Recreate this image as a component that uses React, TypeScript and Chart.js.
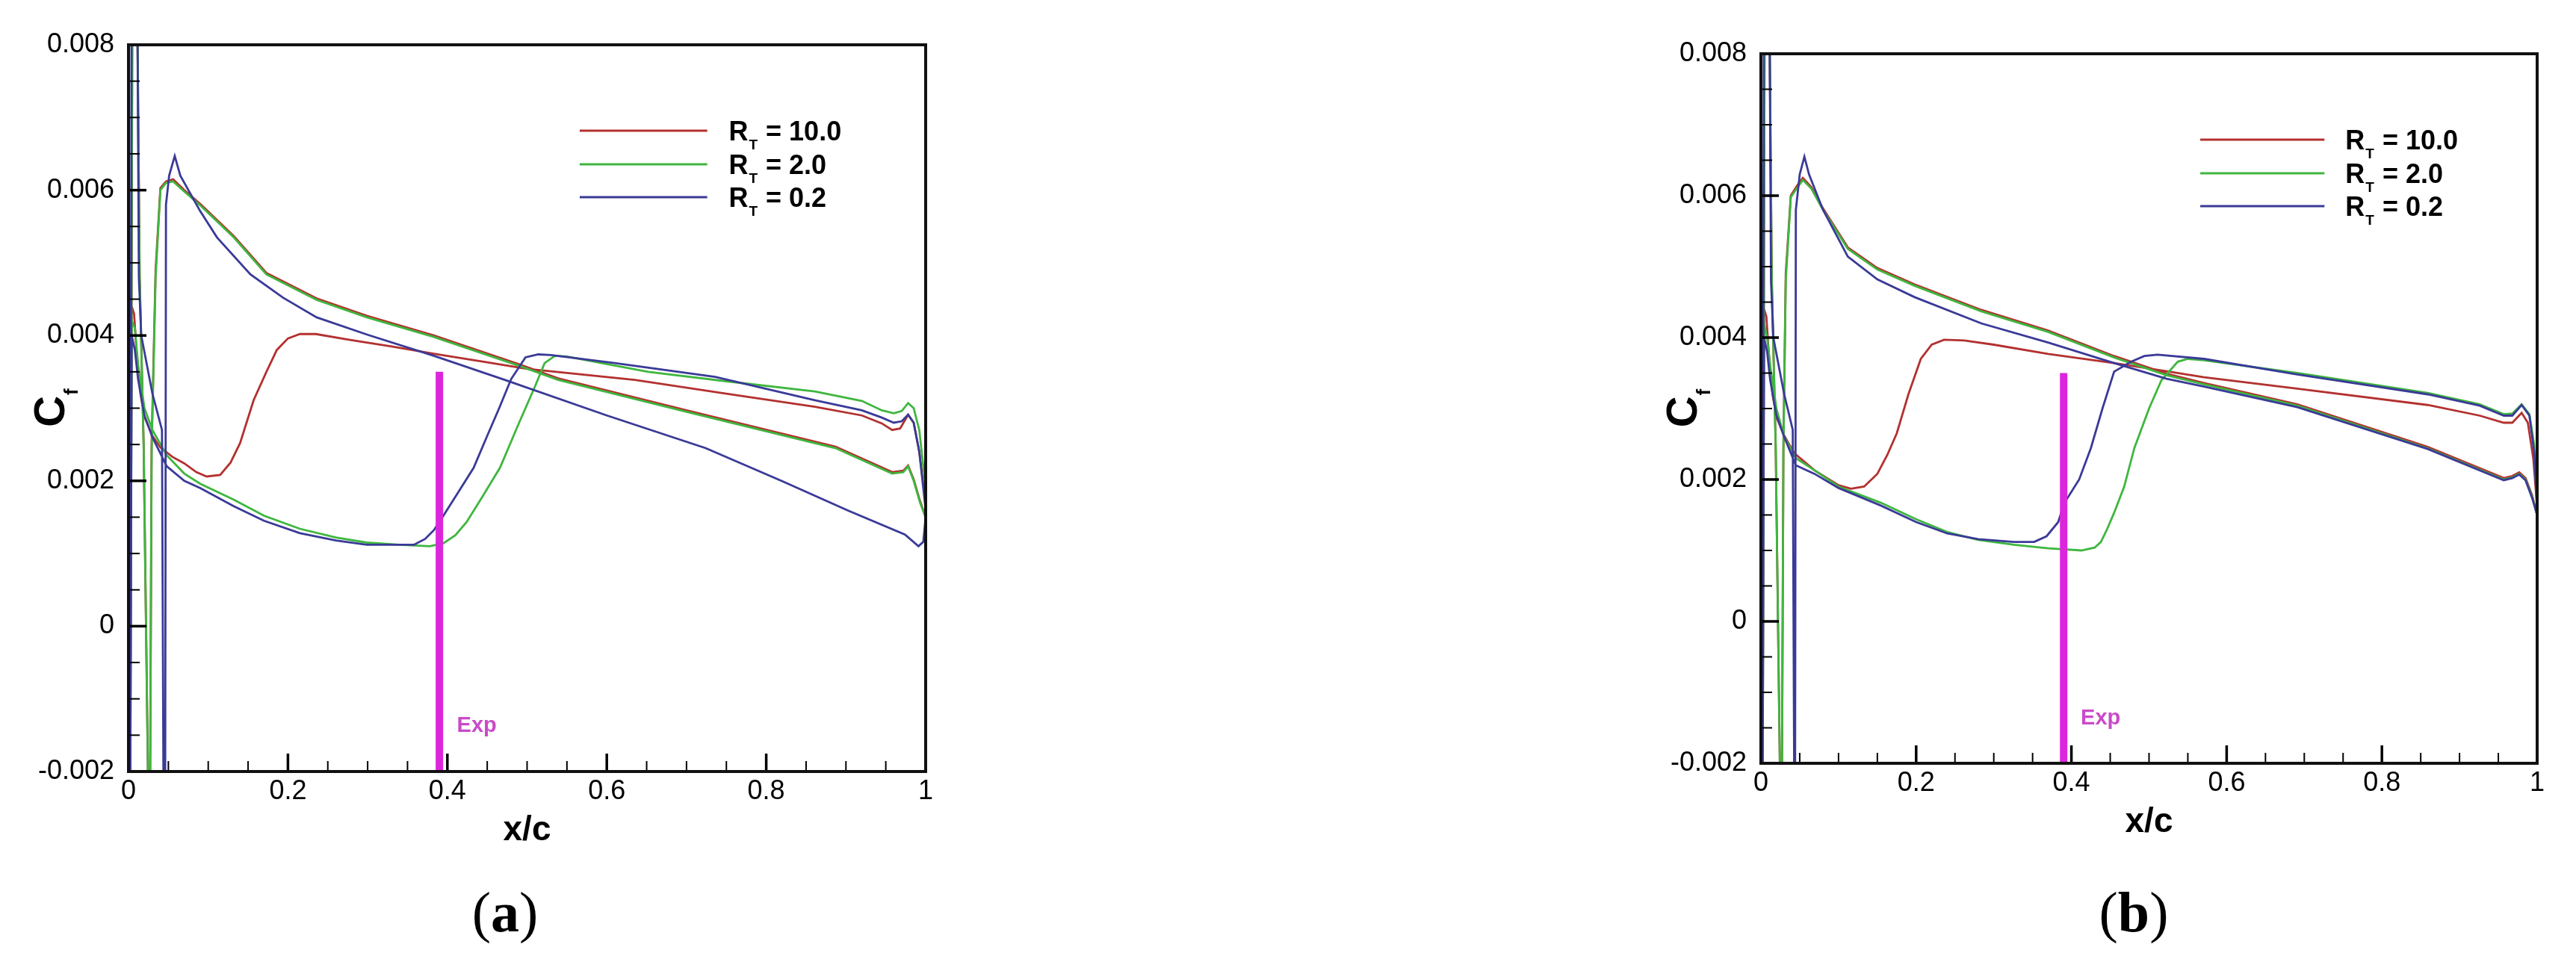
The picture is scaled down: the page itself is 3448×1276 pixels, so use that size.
import React, { useEffect, useRef } from 'react';
import { Chart, registerables } from 'chart.js';

Chart.register(...registerables);

type Pt = [number, number];

// ---------------- axes / labels ----------------
const X_TICKS = [0, 0.2, 0.4, 0.6, 0.8, 1];
const Y_TICKS = [-0.002, 0, 0.002, 0.004, 0.006, 0.008];
const X_MINOR_STEP = 0.05;
const Y_MINOR_STEP = 0.0005;
const RT_LABELS = ['10.0', '2.0', '0.2'];
const RT_COLORS = ['#b3312f', '#3fb63f', '#3a3a98'];
const EXP_COLOR = '#dc26dc';
const EXP_TEXT_COLOR = '#c94bc9';
const EXP_X = 0.39;
const EXP_Y = [-0.002, 0.0035];
const EXP_LABEL: Pt = [0.412, -0.00137];

// ---------------- panel (a) ----------------
// pressure side (P) and suction side (S), each listed from leading edge to trailing edge
const A_RT10_P: Pt[] = [[0.004, 0.0044], [0.007, 0.0043], [0.01, 0.0038], [0.015, 0.0032], [0.02, 0.00288], [0.03, 0.00262], [0.04, 0.00246], [0.055, 0.00233], [0.07, 0.00224], [0.085, 0.00212], [0.098, 0.00206], [0.115, 0.00208], [0.128, 0.00225], [0.14, 0.00252], [0.157, 0.00311], [0.173, 0.0035], [0.186, 0.0038], [0.2, 0.00396], [0.215, 0.00402], [0.235, 0.00402], [0.278, 0.00394], [0.33, 0.00385], [0.383, 0.00375], [0.45, 0.00363], [0.5, 0.00354], [0.635, 0.00339], [0.75, 0.0032], [0.861, 0.00302], [0.92, 0.0029], [0.945, 0.00279], [0.958, 0.0027], [0.968, 0.00272], [0.978, 0.00291], [0.985, 0.0028], [0.992, 0.0024], [1.0, 0.0017]];
const A_RT10_S: Pt[] = [[0.002, -0.003], [0.005, 0.0095], [0.011, 0.0085], [0.014, 0.0048], [0.019, 0.0025], [0.025, -0.0025], [0.027, -0.0025], [0.029, 0.0025], [0.034, 0.0049], [0.04, 0.00603], [0.047, 0.00612], [0.056, 0.00615], [0.07, 0.006], [0.09, 0.00581], [0.132, 0.00537], [0.173, 0.00486], [0.236, 0.00451], [0.299, 0.00427], [0.383, 0.004], [0.491, 0.0036], [0.539, 0.00341], [0.7, 0.00297], [0.887, 0.00247], [0.958, 0.00212], [0.972, 0.00214], [0.978, 0.00221], [0.985, 0.00202], [0.993, 0.00172], [1.0, 0.0015]];
const A_RT2_P: Pt[] = [[0.004, 0.0042], [0.008, 0.0041], [0.012, 0.0036], [0.02, 0.003], [0.03, 0.0027], [0.048, 0.00235], [0.07, 0.0021], [0.09, 0.00196], [0.132, 0.00174], [0.17, 0.00152], [0.215, 0.00134], [0.26, 0.00122], [0.299, 0.00115], [0.34, 0.00112], [0.378, 0.0011], [0.395, 0.00114], [0.41, 0.00125], [0.424, 0.00143], [0.445, 0.0018], [0.466, 0.00218], [0.49, 0.0028], [0.51, 0.0033], [0.522, 0.00362], [0.535, 0.00372], [0.55, 0.00371], [0.652, 0.0035], [0.75, 0.00337], [0.861, 0.00323], [0.92, 0.0031], [0.945, 0.00297], [0.96, 0.00293], [0.97, 0.00296], [0.978, 0.00307], [0.985, 0.003], [0.992, 0.0027], [1.0, 0.0019]];
const A_RT2_S: Pt[] = [[0.002, -0.003], [0.005, 0.0095], [0.011, 0.0085], [0.014, 0.0048], [0.019, 0.0025], [0.025, -0.0025], [0.027, -0.0025], [0.029, 0.0024], [0.034, 0.0048], [0.04, 0.006], [0.047, 0.0061], [0.056, 0.00612], [0.07, 0.00598], [0.09, 0.00579], [0.132, 0.00535], [0.173, 0.00484], [0.236, 0.00449], [0.299, 0.00425], [0.383, 0.00398], [0.491, 0.00358], [0.539, 0.00339], [0.7, 0.00295], [0.887, 0.00245], [0.958, 0.0021], [0.972, 0.00212], [0.978, 0.0022], [0.985, 0.002], [0.993, 0.0017], [1.0, 0.0015]];
const A_RT02_P: Pt[] = [[0.004, 0.004], [0.008, 0.0038], [0.012, 0.0034], [0.02, 0.0029], [0.03, 0.0026], [0.048, 0.0022], [0.07, 0.002], [0.09, 0.0019], [0.132, 0.00165], [0.17, 0.00145], [0.215, 0.00128], [0.26, 0.00118], [0.299, 0.00112], [0.358, 0.00112], [0.372, 0.0012], [0.383, 0.00132], [0.395, 0.00152], [0.414, 0.00185], [0.433, 0.00218], [0.45, 0.00262], [0.465, 0.003], [0.48, 0.0034], [0.498, 0.0037], [0.514, 0.00374], [0.53, 0.00373], [0.61, 0.00362], [0.736, 0.00343], [0.861, 0.00311], [0.92, 0.00297], [0.945, 0.00287], [0.96, 0.0028], [0.97, 0.00282], [0.978, 0.00291], [0.985, 0.0028], [0.992, 0.0024], [1.0, 0.0016]];
const A_RT02_S: Pt[] = [[0.002, -0.003], [0.004, 0.0095], [0.011, 0.0088], [0.013, 0.0048], [0.016, 0.004], [0.03, 0.0032], [0.042, 0.0027], [0.044, -0.0025], [0.046, -0.0025], [0.047, 0.0058], [0.051, 0.0062], [0.058, 0.00647], [0.065, 0.0062], [0.09, 0.00571], [0.111, 0.00535], [0.153, 0.00484], [0.194, 0.00452], [0.236, 0.00425], [0.3, 0.00401], [0.383, 0.00372], [0.472, 0.00339], [0.6, 0.0029], [0.724, 0.00245], [0.819, 0.002], [0.903, 0.00159], [0.974, 0.00126], [0.991, 0.0011], [0.997, 0.00116], [1.0, 0.0015]];

// ---------------- panel (b) ----------------
const B_RT10_P: Pt[] = [[0.004, 0.0044], [0.007, 0.0043], [0.01, 0.0038], [0.015, 0.0032], [0.02, 0.00288], [0.03, 0.00262], [0.043, 0.00237], [0.069, 0.00213], [0.1, 0.00192], [0.116, 0.00187], [0.133, 0.0019], [0.15, 0.00208], [0.163, 0.00235], [0.175, 0.00265], [0.19, 0.0032], [0.206, 0.0037], [0.22, 0.0039], [0.236, 0.00397], [0.262, 0.00396], [0.3, 0.0039], [0.37, 0.00377], [0.455, 0.00364], [0.52, 0.00353], [0.571, 0.00344], [0.691, 0.00328], [0.859, 0.00305], [0.926, 0.0029], [0.957, 0.0028], [0.968, 0.0028], [0.98, 0.00294], [0.988, 0.0028], [0.995, 0.0023], [1.0, 0.0016]];
const B_RT10_S: Pt[] = [[0.002, -0.003], [0.005, 0.0095], [0.011, 0.0085], [0.014, 0.0048], [0.019, 0.0025], [0.025, -0.0025], [0.027, -0.0025], [0.029, 0.0025], [0.032, 0.0049], [0.0385, 0.006], [0.046, 0.00613], [0.054, 0.00625], [0.065, 0.00612], [0.08, 0.00582], [0.112, 0.00527], [0.15, 0.00498], [0.198, 0.00475], [0.284, 0.00439], [0.37, 0.0041], [0.455, 0.00374], [0.5226, 0.00349], [0.571, 0.00336], [0.691, 0.00306], [0.859, 0.00246], [0.957, 0.00202], [0.968, 0.00205], [0.977, 0.0021], [0.985, 0.00202], [0.9935, 0.00178], [1.0, 0.0015]];
const B_RT2_P: Pt[] = [[0.004, 0.0042], [0.008, 0.004], [0.012, 0.0036], [0.02, 0.003], [0.03, 0.0026], [0.045, 0.0023], [0.069, 0.00213], [0.1, 0.0019], [0.155, 0.00167], [0.2, 0.00144], [0.24, 0.00126], [0.28, 0.00115], [0.326, 0.00108], [0.37, 0.00103], [0.413, 0.001], [0.43, 0.00104], [0.438, 0.00112], [0.446, 0.0013], [0.455, 0.00153], [0.468, 0.0019], [0.481, 0.00244], [0.5, 0.003], [0.516, 0.0034], [0.537, 0.00366], [0.55, 0.0037], [0.571, 0.00368], [0.691, 0.0035], [0.859, 0.00322], [0.926, 0.00306], [0.957, 0.00292], [0.968, 0.00293], [0.98, 0.00306], [0.99, 0.00292], [0.996, 0.0025], [1.0, 0.0016]];
const B_RT2_S: Pt[] = [[0.002, -0.003], [0.005, 0.0095], [0.011, 0.0085], [0.014, 0.0048], [0.019, 0.0025], [0.025, -0.0025], [0.027, -0.0025], [0.029, 0.0024], [0.032, 0.0048], [0.0385, 0.00598], [0.046, 0.0061], [0.054, 0.00622], [0.065, 0.0061], [0.08, 0.0058], [0.112, 0.00525], [0.15, 0.00496], [0.198, 0.00473], [0.284, 0.00437], [0.37, 0.00408], [0.455, 0.00372], [0.5226, 0.00347], [0.571, 0.00334], [0.691, 0.00304], [0.859, 0.00244], [0.957, 0.002], [0.968, 0.00203], [0.977, 0.00208], [0.985, 0.002], [0.9935, 0.00176], [1.0, 0.0015]];
const B_RT02_P: Pt[] = [[0.004, 0.004], [0.008, 0.0038], [0.012, 0.0034], [0.02, 0.0029], [0.03, 0.0026], [0.045, 0.0022], [0.069, 0.00208], [0.1, 0.00188], [0.155, 0.00163], [0.2, 0.0014], [0.24, 0.00124], [0.28, 0.00116], [0.326, 0.00112], [0.352, 0.00112], [0.368, 0.0012], [0.383, 0.0014], [0.391, 0.00167], [0.41, 0.002], [0.425, 0.00244], [0.44, 0.003], [0.455, 0.00352], [0.477, 0.00366], [0.494, 0.00374], [0.511, 0.00376], [0.571, 0.0037], [0.691, 0.00348], [0.859, 0.0032], [0.926, 0.00304], [0.957, 0.0029], [0.968, 0.0029], [0.98, 0.00305], [0.99, 0.0029], [0.996, 0.0024], [1.0, 0.0016]];
const B_RT02_S: Pt[] = [[0.002, -0.003], [0.004, 0.0095], [0.011, 0.0088], [0.013, 0.0048], [0.016, 0.004], [0.03, 0.0032], [0.041, 0.0027], [0.043, -0.0025], [0.044, -0.0025], [0.045, 0.0058], [0.05, 0.0063], [0.056, 0.00655], [0.062, 0.0063], [0.08, 0.0058], [0.112, 0.00514], [0.15, 0.00482], [0.198, 0.00457], [0.284, 0.0042], [0.37, 0.00393], [0.455, 0.00364], [0.5226, 0.00342], [0.571, 0.00331], [0.691, 0.00302], [0.859, 0.00243], [0.957, 0.00199], [0.968, 0.00202], [0.977, 0.00207], [0.985, 0.00199], [0.9935, 0.00174], [1.0, 0.0015]];

const SANS = '"Liberation Sans", Arial, Helvetica, sans-serif';
const SERIF = '"Liberation Serif", "Times New Roman", serif';

interface PanelCfg {
  caption: string;
  series: [Pt[], Pt[]][];
  padding: { left: number; right: number; top: number; bottom: number };
  xAxisH: number;
  captionX: number;
  left: number;
}

const PANELS: PanelCfg[] = [
  {
    caption: 'a',
    series: [[A_RT10_P, A_RT10_S], [A_RT2_P, A_RT2_S], [A_RT02_P, A_RT02_S]],
    padding: { left: 0, right: 485, top: 60, bottom: 0 },
    xAxisH: 243,
    captionX: 676,
    left: 0,
  },
  {
    caption: 'b',
    series: [[B_RT10_P, B_RT10_S], [B_RT2_P, B_RT2_S], [B_RT02_P, B_RT02_S]],
    padding: { left: 461, right: 52, top: 72, bottom: 0 },
    xAxisH: 254,
    captionX: 1132,
    left: 1724,
  },
];

const fmt = (v: number | string) => {
  const n = Number(v);
  if (Math.abs(n) < 1e-12) return '0';
  return String(parseFloat(n.toFixed(4)));
};

function Panel({ cfg }: { cfg: PanelCfg }) {
  const ref = useRef<HTMLCanvasElement>(null);

  useEffect(() => {
    const canvas = ref.current;
    if (!canvas) return;

    const datasets: any[] = cfg.series.map(([p, s], i) => ({
      label: 'R_T = ' + RT_LABELS[i],
      data: [...p.slice().reverse(), ...s].map(([x, y]) => ({ x, y })),
      borderColor: RT_COLORS[i],
      backgroundColor: RT_COLORS[i],
      borderWidth: 2.8,
      pointRadius: 0,
      tension: 0,
      fill: false,
      order: 3 - i,
    }));
    datasets.push({
      label: 'Exp',
      data: EXP_Y.map((y) => ({ x: EXP_X, y })),
      borderColor: EXP_COLOR,
      backgroundColor: EXP_COLOR,
      borderWidth: 10,
      borderCapStyle: 'butt',
      pointRadius: 0,
      fill: false,
      order: 0,
    });

    const decor = {
      id: 'decor',
      afterDatasetsDraw(chart: any) {
        const { ctx, chartArea: a, scales } = chart;
        const xs = scales.x;
        const ys = scales.y;
        ctx.save();
        ctx.strokeStyle = '#000';
        ctx.lineCap = 'butt';
        // inward tick marks
        const nx = Math.round(1 / X_MINOR_STEP);
        for (let k = 0; k <= nx; k++) {
          const v = k * X_MINOR_STEP;
          const major = X_TICKS.some((t) => Math.abs(t - v) < 1e-9);
          const px = xs.getPixelForValue(v);
          ctx.lineWidth = major ? 3.5 : 2;
          ctx.beginPath();
          ctx.moveTo(px, a.bottom);
          ctx.lineTo(px, a.bottom - (major ? 24 : 14));
          ctx.stroke();
        }
        const ny = Math.round((Y_TICKS[Y_TICKS.length - 1] - Y_TICKS[0]) / Y_MINOR_STEP);
        for (let k = 0; k <= ny; k++) {
          const v = Y_TICKS[0] + k * Y_MINOR_STEP;
          const major = Y_TICKS.some((t) => Math.abs(t - v) < 1e-9);
          const py = ys.getPixelForValue(v);
          ctx.lineWidth = major ? 3.5 : 2;
          ctx.beginPath();
          ctx.moveTo(a.left, py);
          ctx.lineTo(a.left + (major ? 24 : 15), py);
          ctx.stroke();
        }
        // frame
        ctx.lineWidth = 4;
        ctx.strokeStyle = '#111';
        ctx.strokeRect(a.left, a.top, a.right - a.left, a.bottom - a.top);
        ctx.restore();
      },
      afterDraw(chart: any) {
        const { ctx, chartArea: a, scales } = chart;
        const xs = scales.x;
        const ys = scales.y;
        const w = a.right - a.left;
        ctx.save();
        ctx.fillStyle = '#000';

        // x axis title
        ctx.font = `bold 46px ${SANS}`;
        ctx.textAlign = 'center';
        ctx.textBaseline = 'alphabetic';
        ctx.fillText('x/c', (a.left + a.right) / 2, a.bottom + 92);

        // y axis title C_f (rotated)
        ctx.save();
        ctx.translate(a.left - 86, (a.top + a.bottom) / 2);
        ctx.rotate(-Math.PI / 2);
        ctx.textAlign = 'left';
        ctx.font = `bold 58px ${SANS}`;
        const wC = ctx.measureText('C').width;
        ctx.font = `bold 26px ${SANS}`;
        const wf = ctx.measureText('f').width;
        const start = -(wC + wf) / 2;
        ctx.font = `bold 58px ${SANS}`;
        ctx.fillText('C', start, 0);
        ctx.font = `bold 26px ${SANS}`;
        ctx.fillText('f', start + wC + 1, 18);
        ctx.restore();

        // legend
        const rows = [115, 160, 204];
        RT_LABELS.forEach((lab, i) => {
          const yy = a.top + rows[i];
          ctx.strokeStyle = RT_COLORS[i];
          ctx.lineWidth = 3;
          ctx.beginPath();
          ctx.moveTo(a.left + 0.566 * w, yy);
          ctx.lineTo(a.left + 0.726 * w, yy);
          ctx.stroke();
          const tx = a.left + 0.753 * w;
          const base = yy + 12.5;
          ctx.textAlign = 'left';
          ctx.fillStyle = '#000';
          ctx.font = `bold 36px ${SANS}`;
          ctx.fillText('R', tx, base);
          const wR = ctx.measureText('R').width;
          ctx.font = `bold 19px ${SANS}`;
          ctx.fillText('T', tx + wR + 1, base + 12);
          const wT = ctx.measureText('T').width;
          ctx.font = `bold 36px ${SANS}`;
          ctx.fillText(' = ' + lab, tx + wR + 2 + wT, base);
        });

        // Exp label
        ctx.font = `bold 29px ${SANS}`;
        ctx.fillStyle = EXP_TEXT_COLOR;
        ctx.textAlign = 'left';
        ctx.textBaseline = 'middle';
        ctx.fillText('Exp', xs.getPixelForValue(EXP_LABEL[0]), ys.getPixelForValue(EXP_LABEL[1]));

        // caption (a)/(b)
        ctx.fillStyle = '#000';
        ctx.textBaseline = 'alphabetic';
        ctx.font = `76px ${SERIF}`;
        const wp = ctx.measureText('(').width;
        const wq = ctx.measureText(')').width;
        ctx.font = `bold 76px ${SERIF}`;
        const wa = ctx.measureText(cfg.caption).width;
        let cx = cfg.captionX - (wp + wa + wq) / 2;
        const cy = 1247;
        ctx.textAlign = 'left';
        ctx.font = `76px ${SERIF}`;
        ctx.fillText('(', cx, cy);
        cx += wp;
        ctx.font = `bold 76px ${SERIF}`;
        ctx.fillText(cfg.caption, cx, cy);
        cx += wa;
        ctx.font = `76px ${SERIF}`;
        ctx.fillText(')', cx, cy);
        ctx.restore();
      },
    };

    const tickFont = { family: SANS, size: 36 };
    const chart = new Chart(canvas, {
      type: 'line',
      data: { datasets },
      options: {
        responsive: false,
        animation: false,
        devicePixelRatio: 1,
        layout: { padding: cfg.padding },
        plugins: {
          legend: { display: false },
          tooltip: { enabled: false },
        },
        scales: {
          x: {
            type: 'linear',
            min: 0,
            max: 1,
            grid: { display: false, drawTicks: false, tickLength: 0 },
            border: { display: false },
            afterBuildTicks: (s: any) => {
              s.ticks = X_TICKS.map((v) => ({ value: v }));
            },
            afterFit: (s: any) => {
              s.height = cfg.xAxisH;
            },
            ticks: {
              autoSkip: false,
              maxRotation: 0,
              minRotation: 0,
              padding: 5,
              color: '#000',
              font: tickFont,
              callback: (v: any) => fmt(v),
            },
          },
          y: {
            type: 'linear',
            min: Y_TICKS[0],
            max: Y_TICKS[Y_TICKS.length - 1],
            grid: { display: false, drawTicks: false, tickLength: 0 },
            border: { display: false },
            afterBuildTicks: (s: any) => {
              s.ticks = Y_TICKS.map((v) => ({ value: v }));
            },
            afterFit: (s: any) => {
              s.width = 172;
            },
            ticks: {
              autoSkip: false,
              padding: 19,
              color: '#000',
              font: tickFont,
              callback: (v: any) => fmt(v),
            },
          },
        },
      } as any,
      plugins: [decor as any],
    });
    return () => chart.destroy();
  }, [cfg]);

  return (
    <canvas
      ref={ref}
      width={1724}
      height={1276}
      style={{ position: 'absolute', left: cfg.left, top: 0, width: 1724, height: 1276 }}
    />
  );
}

export default function App() {
  return (
    <div
      style={{
        position: 'fixed',
        left: 0,
        top: 0,
        width: 3448,
        height: 1276,
        background: '#ffffff',
        overflow: 'hidden',
      }}
    >
      {PANELS.map((p) => (
        <Panel key={p.caption} cfg={p} />
      ))}
    </div>
  );
}
